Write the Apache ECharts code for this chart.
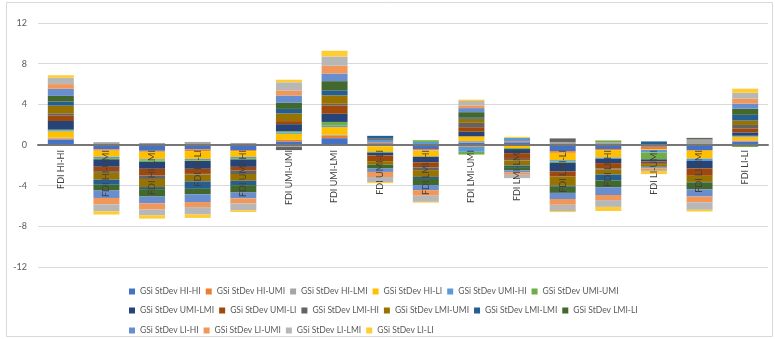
<!DOCTYPE html>
<html>
<head>
<meta charset="utf-8">
<script src="https://cdn.jsdelivr.net/npm/echarts@6/dist/echarts.min.js"></script>
<style>
  html, body { margin: 0; padding: 0; background: #fff; }
  #main { width: 775px; height: 339px; }
</style>
</head>
<body>
<div id="main"></div>
<script>
var myChart = echarts.init(document.getElementById('main'));

var categories = ['FDI HI-HI', 'FDI HI-UMI', 'FDI HI-LMI', 'FDI HI-LI',
  'FDI UMI-HI', 'FDI UMI-UMI', 'FDI UMI-LMI', 'FDI UMI-LI',
  'FDI LMI-HI', 'FDI LMI-UMI', 'FDI LMI-LMI', 'FDI LMI-LI',
  'FDI LI-HI', 'FDI LI-UMI', 'FDI LI-LMI', 'FDI LI-LI'];

var seriesNames = ['GSi StDev HI-HI', 'GSi StDev HI-UMI', 'GSi StDev HI-LMI', 'GSi StDev HI-LI',
  'GSi StDev UMI-HI', 'GSi StDev UMI-UMI', 'GSi StDev UMI-LMI', 'GSi StDev UMI-LI',
  'GSi StDev LMI-HI', 'GSi StDev LMI-UMI', 'GSi StDev LMI-LMI', 'GSi StDev LMI-LI',
  'GSi StDev LI-HI', 'GSi StDev LI-UMI', 'GSi StDev LI-LMI', 'GSi StDev LI-LI'];

// one row per bar (category), values in series order
var fdiHiHi   = [0.55, 0.1, 0.08, 0.6, 0.08, 0.1, 0.85, 0.56, 0.2, 0.75, 0.4, 0.56, 0.7, 0.46, 0.62, 0.25];
var fdiHiUmi  = [-0.43, -0.13, 0.28, -0.6, -0.13, -0.12, -0.73, -0.43, -0.17, -0.67, -0.5, -0.57, -0.73, -0.63, -0.67, -0.33];
var fdiHiLmi  = [-0.57, -0.1, 0.2, -0.73, -0.13, -0.14, -0.67, -0.67, -0.33, -0.8, -0.2, -0.73, -0.67, -0.6, -0.57, -0.33];
var fdiHiLi   = [-0.43, -0.17, 0.3, -0.77, -0.13, -0.07, -0.77, -0.5, -0.07, -0.67, -0.73, -0.53, -0.77, -0.5, -0.73, -0.33];
var fdiUmiHi  = [-0.5, -0.1, 0.2, -0.57, -0.13, -0.12, -0.73, -0.37, -0.33, -0.67, -0.43, -0.73, -0.57, -0.5, -0.67, -0.17];
var fdiUmiUmi = [0.35, 0.15, -0.2, 0.6, 0.12, 0.13, 0.7, 0.3, -0.3, 0.75, 0.45, 0.6, 0.72, 0.5, 0.8, 0.25];
var fdiUmiLmi = [0.67, 0.23, 0.1, 0.77, 0.17, 0.33, 0.8, 0.83, 0.15, 0.83, 0.5, 0.9, 0.75, 0.77, 0.9, 0.57];
var fdiUmiLi  = [0.17, 0.1, -0.13, -0.52, 0.23, -0.1, -0.27, -0.57, 0.17, -0.33, 0.23, -0.4, -0.33, -0.5, -0.5, -0.1];
var fdiLmiHi  = [-0.4, -0.1, -0.05, -0.6, 0.3, 0.17, -0.55, -0.5, -0.27, -0.67, -0.2, -0.6, -0.5, -0.55, -0.6, -0.08];
var fdiLmiUmi = [0.25, -0.17, 0.15, 0.45, -0.5, -0.27, 0.45, 0.45, 0.43, 0.4, 0.15, 0.5, 0.4, 0.27, 0.43, 0.13];
var fdiLmiLmi = [0.27, 0.1, -0.1, -0.2, 0.33, -0.1, -0.4, -0.57, -0.15, -0.5, -0.15, -0.33, -0.2, -0.23, -0.33, 0.1];
var fdiLmiLi  = [-0.6, -0.17, 0.3, -0.72, -0.15, -0.12, -0.85, -0.5, 0.35, -0.9, -0.1, -0.6, -0.6, -0.57, -0.62, -0.1];
var fdiLiHi   = [-0.4, -0.1, 0.28, -0.73, -0.12, 0.17, -0.43, -0.53, -0.1, -0.5, -0.57, -0.67, -0.77, -0.5, -0.67, -0.4];
var fdiLiUmi  = [-0.17, -0.27, 0.05, -0.05, -0.25, -0.67, -0.2, -0.17, -0.1, -0.23, 0.3, -0.1, -0.1, -0.15, -0.1, -0.3];
var fdiLiLmi  = [-0.5, -0.07, 0.5, -0.77, -0.23, 0.05, -0.73, -0.73, 0.15, -0.6, -0.07, -0.67, -0.7, -0.57, -0.73, -0.17];
var fdiLiLi   = [0.33, 0.1, 0.05, 0.33, 0.1, -0.2, 0.33, 0.4, 0.33, 0.43, 0.57, 0.6, 0.5, 0.5, 0.57, 0.4];

var rows = [fdiHiHi, fdiHiUmi, fdiHiLmi, fdiHiLi, fdiUmiHi, fdiUmiUmi, fdiUmiLmi, fdiUmiLi,
  fdiLmiHi, fdiLmiUmi, fdiLmiLmi, fdiLmiLi, fdiLiHi, fdiLiUmi, fdiLiLmi, fdiLiLi];

var yTicks = [-12, 12, 4]; // min, max, step

// office palette
var colors = ['#4472C4', '#ED7D31', '#A5A5A5', '#FFC000', '#5B9BD5', '#70AD47',
  '#264478', '#9E480E', '#636363', '#997300', '#255E91', '#43682B',
  '#698ED0', '#F1975A', '#B7B7B7', '#FFCD33'];

var font = 'Lato, "Open Sans", sans-serif';

var series = seriesNames.map(function (name, i) {
  return {
    name: name,
    type: 'bar',
    stack: 'total',
    barWidth: 26,
    itemStyle: { color: colors[i] },
    data: rows.map(function (r) { return r[i]; })
  };
});

function legendRow(names, top) {
  return {
    data: names,
    top: top,
    left: 124,
    orient: 'horizontal',
    icon: 'rect',
    itemWidth: 6,
    itemHeight: 6,
    itemGap: 5,
    textStyle: { color: '#595959', fontSize: 8.5, fontFamily: font, width: 62 }
  };
}

var option = {
  animation: false,
  color: colors,
  graphic: [{
    type: 'rect',
    shape: { x: 6.5, y: 2.5, width: 766, height: 334 },
    style: { fill: null, stroke: '#d9d9d9', lineWidth: 1 },
    silent: true
  }],
  legend: [
    legendRow(seriesNames.slice(0, 6), 282),
    legendRow(seriesNames.slice(6, 12), 301),
    legendRow(seriesNames.slice(12), 321)
  ],
  grid: { left: 38, right: 7, top: 23, bottom: 72, containLabel: false },
  xAxis: {
    type: 'category',
    data: categories,
    zlevel: 1,
    position: 'bottom',
    offset: -122,
    axisLine: { onZero: false, lineStyle: { color: '#767676', width: 2 } },
    axisTick: { show: false },
    axisLabel: { rotate: 90, margin: 5, fontSize: 9, color: '#404040', fontFamily: font, interval: 0 }
  },
  yAxis: {
    type: 'value',
    min: yTicks[0],
    max: yTicks[1],
    interval: yTicks[2],
    axisLine: { show: false },
    axisTick: { show: false },
    axisLabel: { fontSize: 9, color: '#595959', margin: 11, fontFamily: font },
    splitLine: { lineStyle: { color: '#d9d9d9' } }
  },
  series: series
};

myChart.setOption(option);
window.onresize = myChart.resize;
</script>
</body>
</html>
